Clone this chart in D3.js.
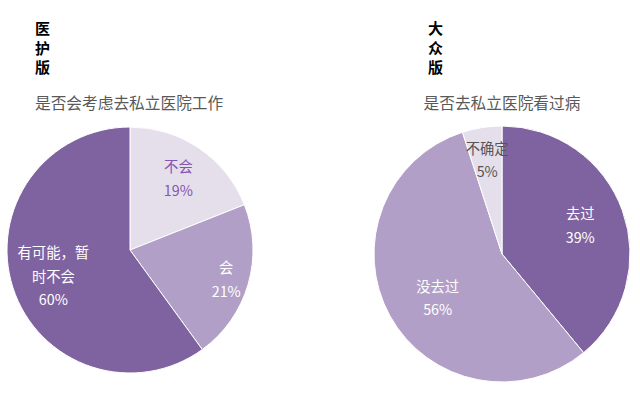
<!DOCTYPE html>
<html>
<head>
<meta charset="utf-8">
<script src="https://cdn.jsdelivr.net/npm/d3@7"></script>
<style>
  body { margin: 0; background: #fff; }
  svg text { font-family: "Microsoft YaHei", "Noto Sans CJK SC", sans-serif; }
</style>
</head>
<body>
<script>
// data
const leftCategories = ["不会", "会", "有可能，暂时不会"];
const leftValues = [19, 21, 60];
const rightCategories = ["去过", "没去过", "不确定"];
const rightValues = [39, 56, 5];

const width = 640;
const height = 394;
const colors = ["#e5dfec", "#b19fc8", "#7f63a0"];

var svg = d3.select("body").append("svg")
    .attr("width", width)
    .attr("height", height);

// draws one pie with its titles
function drawPie(opts) {
    var g = svg.append("g").attr("transform", "translate(" + opts.cx + "," + opts.cy + ")");
    var pie = d3.pie().sort(null).value(d => d.value);
    var arc = d3.arc().innerRadius(0).outerRadius(opts.r);
    var data = opts.categories.map((c, i) => ({ name: c, value: opts.values[i], color: opts.colors[i] }));
    var arcs = pie(data);

    g.selectAll("path")
        .data(arcs)
        .enter()
        .append("path")
        .attr("d", arc)
        .attr("fill", d => d.data.color)
        .attr("stroke", "#fff")
        .attr("stroke-width", 1);

    // labels, radius factor and small angle nudge differ per slice
    arcs.forEach((d, i) => {
        var mid = (d.startAngle + d.endAngle) / 2 + opts.labelNudge[i];
        var lr = opts.r * opts.labelR[i];
        var x = Math.sin(mid) * lr;
        var y = -Math.cos(mid) * lr;
        var lines = opts.lines[i].concat([d.data.value + "%"]);
        var t = g.append("text")
            .attr("text-anchor", "middle")
            .attr("font-size", 14.3)
            .attr("fill", opts.labelColors[i]);
        var y0 = y - (lines.length - 1) * 23.5 / 2 + 5;
        lines.forEach((ln, j) => {
            t.append("tspan").attr("x", x).attr("y", y0 + j * 23.5).text(ln);
        });
    });

    // vertical bold title
    opts.title.split("").forEach((ch, i) => {
        svg.append("text")
            .attr("x", opts.titleX)
            .attr("y", 34 + i * 19.5)
            .attr("font-size", 15)
            .attr("font-weight", "bold")
            .attr("fill", "#000")
            .text(ch);
    });

    svg.append("text")
        .attr("x", opts.subX)
        .attr("y", 109)
        .attr("text-anchor", opts.subAnchor)
        .attr("font-size", 15.7)
        .attr("fill", "#595959")
        .text(opts.subtitle);
}

drawPie({
    cx: 130, cy: 250, r: 123,
    categories: leftCategories, values: leftValues,
    colors: [colors[0], colors[1], colors[2]],
    lines: [["不会"], ["会"], ["有可能，暂", "时不会"]],
    labelR: [0.70, 0.82, 0.66],
    labelNudge: [0, 0.02, -0.02],
    labelColors: ["#8455b3", "#fff", "#fff"],
    title: "医护版", titleX: 35,
    subtitle: "是否会考虑去私立医院工作", subX: 35, subAnchor: "start"
});

drawPie({
    cx: 502, cy: 254, r: 128,
    categories: rightCategories, values: rightValues,
    colors: [colors[2], colors[1], colors[0]],
    lines: [["去过"], ["没去过"], ["不确定"]],
    labelR: [0.65, 0.61, 0.74],
    labelNudge: [0, -0.1, 0],
    labelColors: ["#fff", "#fff", "#555"],
    title: "大众版", titleX: 428,
    subtitle: "是否去私立医院看过病", subX: 502, subAnchor: "middle"
});
</script>
</body>
</html>
